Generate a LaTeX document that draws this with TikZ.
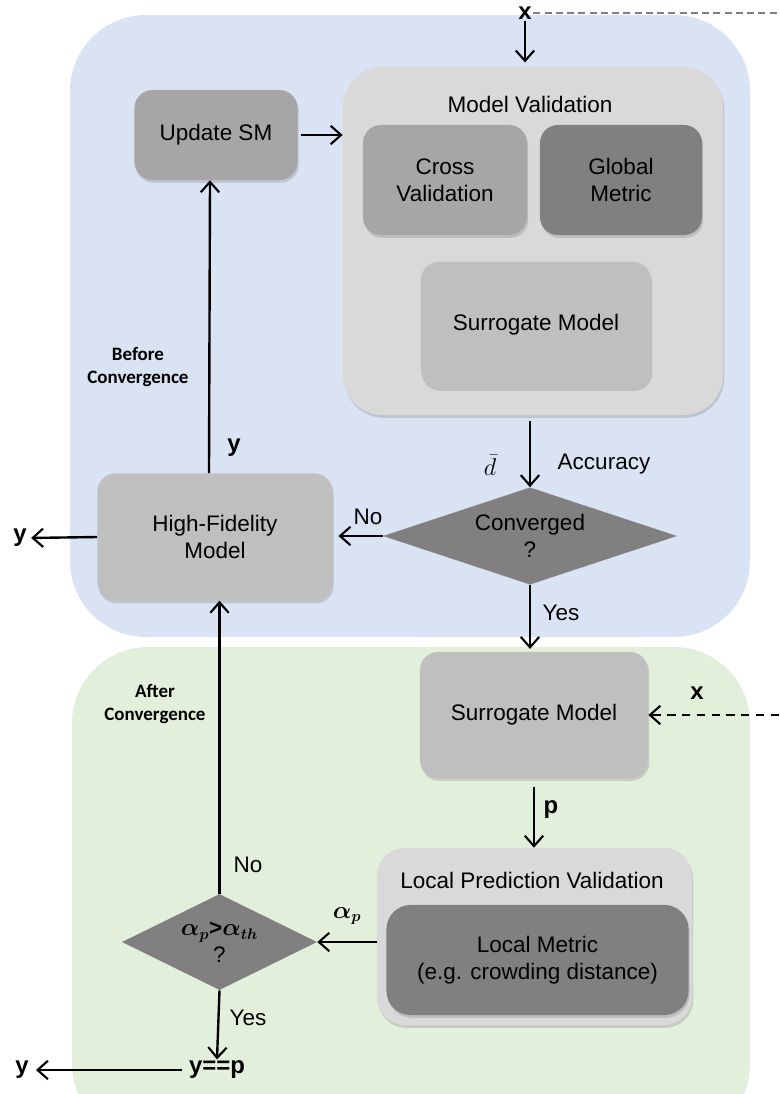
\documentclass[tikz,border=0pt]{standalone}
\usepackage{amsmath}
\usepackage{fontspec}
\setmainfont{Liberation Sans}
\newfontfamily\labelfont{Carlito}
\usetikzlibrary{arrows.meta,shapes.geometric,shadows}
\tikzset{>={Straight Barb[length=2.6mm,width=4.6mm,line width=1.5pt]}}
\definecolor{bgblue}{RGB}{218,227,243}
\definecolor{bggreen}{RGB}{226,239,218}
\definecolor{boxlight}{RGB}{217,217,217}
\definecolor{boxmid}{RGB}{191,191,191}
\definecolor{boxgray}{RGB}{166,166,166}
\definecolor{boxdark}{RGB}{128,128,128}
\tikzstyle{block}=[rectangle,rounded corners=0.45cm,inner sep=0,align=center,font=\fontsize{16}{19}\selectfont,drop shadow={opacity=0.3,shadow xshift=0.03cm,shadow yshift=-0.07cm}]
\tikzstyle{group}=[block,rounded corners=1cm,fill=boxlight]
\tikzstyle{decision}=[diamond,fill=boxdark,inner sep=0,align=center,font=\fontsize{16}{19}\selectfont]
\tikzstyle{txt}=[inner sep=1pt,align=center,font=\fontsize{16}{19}\selectfont]
\tikzstyle{io}=[inner sep=1pt,font=\fontsize{17}{20}\selectfont\bfseries]
\tikzstyle{phase}=[inner sep=0,align=center,font=\fontsize{13.5}{17}\selectfont\labelfont\bfseries]
\tikzstyle{flow}=[->,line width=1.7pt]

\begin{document}
\begin{tikzpicture}[x={(0.025cm,0)},y={(0,-0.025cm)}]
	\useasboundingbox (0,0) rectangle (779,1094);
	\clip (0,0) rectangle (779,1094);

	% backgrounds
	\fill[bgblue,rounded corners=1.9cm] (70,15) rectangle (750,637);
	\fill[bggreen,rounded corners=1.9cm] (72,647) rectangle (750,1140);

	% before convergence
	\node[group,minimum width=9.5cm,minimum height=8.7cm] (mv) at (533,241) {};
	\node[txt] (mvtitle) at (530,104) {Model Validation};
	\node[block,fill=boxgray,minimum width=4.1cm,minimum height=2.75cm] (cv) at (445,180) {Cross\\Validation};
	\node[block,fill=boxdark,minimum width=4.05cm,minimum height=2.75cm] (gm) at (621,180) {Global\\Metric};
	\node[block,fill=boxmid,minimum width=5.75cm,minimum height=3.15cm] (sm) at (536,325) {Surrogate Model};
	\node[block,fill=boxgray,minimum width=4.075cm,minimum height=2.25cm] (upd) at (216,135) {Update SM};
	\node[decision,aspect=3,minimum width=7.35cm,minimum height=2.43cm] (conv) at (530,536) {Converged\\?};
	\node[block,fill=boxmid,minimum width=5.875cm,minimum height=3.175cm] (hf) at (215,537) {High-Fidelity\\Model};

	% after convergence
	\node[block,fill=boxmid,minimum width=5.7cm,minimum height=3.15cm] (sm2) at (534,715) {Surrogate Model};
	\node[block,fill=boxlight,rounded corners=0.7cm,minimum width=7.875cm,minimum height=4.425cm] (lpv) at (534.5,936.5) {};
	\node[txt] (lpvtitle) at (532,880) {Local Prediction Validation};
	\node[block,fill=boxdark,rounded corners=0.6cm,minimum width=7.55cm,minimum height=2.75cm] (lm) at (537.5,960) {Local Metric\\(e.g. crowding distance)};
	\node[decision,aspect=2,minimum width=4.875cm,minimum height=2.4cm] (alpha) at (219.5,942) {$\boldsymbol{\alpha_p}$\textbf{>}$\boldsymbol{\alpha_{th}}$\\?};

	% inputs and outputs
	\node[io] (xtop) at (525,13) {x};
	\coordinate (xend) at (779,13);
	\node[io] (yhf) at (20,538) {y};
	\coordinate (xin) at (779,715);
	\node[io] (yp) at (217,1070) {y==p};
	\node[io] (ybot) at (22,1070) {y};

	% connectors
	\draw[gray,line width=0.9pt,dash pattern=on 5pt off 3pt] (xtop.east) -- (xend);
	\draw[flow,shorten >=3pt] (xtop.south) -- (xtop.south |- mv.north);
	\draw[flow,shorten <=2pt] (upd.east) -- (upd.east -| mv.west);
	\draw[flow,shorten <=4pt] (conv.north |- mv.south) -- (conv.north);
	\draw[flow,shorten >=4pt] (conv.west) -- (conv.west -| hf.east);
	\draw[flow,shorten >=2pt] (hf.west) -- (yhf.east);
	\draw[flow] ([xshift=-0.15cm]hf.north) -- ([xshift=-0.15cm]upd.south);
	\draw[flow,shorten >=2pt] (conv.south) -- (conv.south |- sm2.north);
	\draw[flow,line width=1.7pt,dash pattern=on 6pt off 4.5pt] (xin) -- (sm2.east);
	\draw[flow,shorten <=6pt] (sm2.south) -- (sm2.south |- lpv.north);
	\draw[flow] (lpv.west |- alpha.east) -- (alpha.east);
	\draw[flow] (alpha.north) -- (alpha.north |- hf.south);
	\draw[flow] (alpha.south) -- (yp.north);
	\draw[flow,shorten <=4pt,shorten >=4pt] (yp.west) -- (ybot.east);

	% connector labels
	\node[txt] (dbar) at (490,465) {$\bar{d}$};
	\node[txt] (acc) at (604,464) {Accuracy};
	\node[txt] (no1) at (368,517) {No};
	\node[txt] (yes1) at (561,613) {Yes};
	\node[io] (yup) at (234,448) {y};
	\node[io] (xlab) at (697,693) {x};
	\node[io] (plab) at (551,810) {p};
	\node[txt] (alab) at (347,916) {$\boldsymbol{\alpha_p}$};
	\node[txt] (no2) at (248,865) {No};
	\node[txt] (yes2) at (248,1018) {Yes};
	\node[phase] (before) at (138,367) {Before\\Convergence};
	\node[phase] (after) at (155,704) {After\\Convergence};
\end{tikzpicture}
\end{document}
